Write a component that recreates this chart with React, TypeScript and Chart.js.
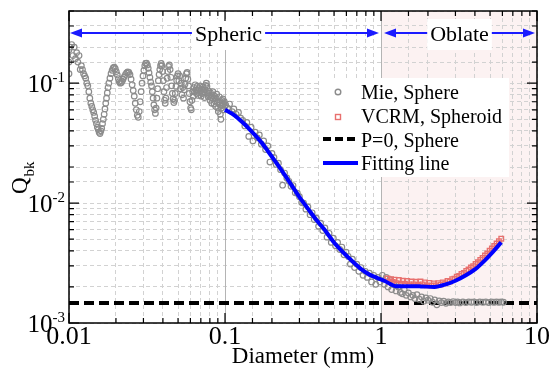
import React, { useEffect, useRef } from 'react';
import { Chart, registerables } from 'chart.js';

Chart.register(...registerables);

const FONT = 'Liberation Serif';

// Mie, Sphere (Diameter mm, Qbk)
const mieDiameter = [
  0.0100, 0.0100, 0.0100, 0.0102, 0.0104, 0.0106, 0.0108, 0.0110, 0.0112, 0.0114, 0.0116, 0.0118, 0.0120,
  0.0122, 0.0124, 0.0126, 0.0128, 0.0130, 0.0132, 0.0134, 0.0136, 0.0138, 0.0140, 0.0142, 0.0144, 0.0146,
  0.0148, 0.0150, 0.0152, 0.0154, 0.0156, 0.0158, 0.0160, 0.0162, 0.0164, 0.0166, 0.0168, 0.0170, 0.0172,
  0.0174, 0.0176, 0.0178, 0.0180, 0.0183, 0.0186, 0.0189, 0.0192, 0.0195, 0.0198, 0.0201, 0.0204, 0.0207,
  0.0210, 0.0213, 0.0216, 0.0219, 0.0222, 0.0226, 0.0230, 0.0234, 0.0238, 0.0242, 0.0246, 0.0250, 0.0254,
  0.0258, 0.0262, 0.0266, 0.0270, 0.0274, 0.0278, 0.0282, 0.0286, 0.0290, 0.0294, 0.0298, 0.0302, 0.0306,
  0.0310, 0.0314, 0.0318, 0.0322, 0.0326, 0.0330, 0.0334, 0.0338, 0.0342, 0.0346, 0.0350, 0.0354, 0.0358,
  0.0362, 0.0366, 0.0370, 0.0374, 0.0378, 0.0382, 0.0386, 0.0390, 0.0394, 0.0398, 0.0402, 0.0406, 0.0410,
  0.0414, 0.0418, 0.0422, 0.0426, 0.0430, 0.0435, 0.0440, 0.0445, 0.0450, 0.0455, 0.0460, 0.0465, 0.0470,
  0.0475, 0.0480, 0.0485, 0.0490, 0.0495, 0.0500, 0.0506, 0.0512, 0.0518, 0.0524, 0.0530, 0.0536, 0.0542,
  0.0548, 0.0554, 0.0560, 0.0566, 0.0572, 0.0578, 0.0584, 0.0590, 0.0596, 0.0602, 0.0608, 0.0614, 0.0620,
  0.0626, 0.0632, 0.0638, 0.0644, 0.0650, 0.0656, 0.0662, 0.0668, 0.0674, 0.0680, 0.0686, 0.0692, 0.0698,
  0.0704, 0.0710, 0.0717, 0.0724, 0.0731, 0.0738, 0.0745, 0.0752, 0.0759, 0.0766, 0.0773, 0.0780, 0.0787,
  0.0794, 0.0801, 0.0808, 0.0815, 0.0822, 0.0829, 0.0836, 0.0843, 0.0850, 0.0857, 0.0864, 0.0871, 0.0878,
  0.0885, 0.0892, 0.0899, 0.0906, 0.0913, 0.0920, 0.0927, 0.0934, 0.0941, 0.0948, 0.0955, 0.0962, 0.0969,
  0.0976, 0.0983, 0.0990, 0.0997,
  0.101, 0.104, 0.107, 0.111, 0.114, 0.118, 0.122, 0.126, 0.130, 0.134, 0.138, 0.142, 0.147, 0.151, 0.156,
  0.161, 0.166, 0.171, 0.177, 0.182, 0.188, 0.194, 0.200, 0.206, 0.213, 0.220, 0.227, 0.234, 0.241, 0.249,
  0.257, 0.265, 0.273, 0.282, 0.291, 0.300, 0.310, 0.319, 0.330, 0.340, 0.351, 0.362, 0.373, 0.385, 0.398,
  0.410, 0.423, 0.437, 0.451, 0.465, 0.480, 0.495, 0.511, 0.527, 0.544, 0.561, 0.579, 0.597, 0.616, 0.636,
  0.656, 0.677, 0.699, 0.721, 0.744, 0.767, 0.792, 0.817, 0.843, 0.870, 0.898, 0.926, 0.956, 0.986,
  1.02, 1.05, 1.08, 1.11, 1.14, 1.17, 1.21, 1.25, 1.29, 1.33, 1.37, 1.41, 1.45, 1.50, 1.55, 1.60, 1.65,
  1.70, 1.76, 1.82, 1.88, 1.94, 2.00, 2.07, 2.14, 2.21, 2.28, 2.36, 2.44, 2.52, 2.61, 2.70, 2.80, 2.90,
  3.00, 3.10, 3.20, 3.35, 3.50, 3.65, 3.80, 3.95, 4.10, 4.30, 4.50, 4.70, 4.90, 5.10, 5.30, 5.50, 5.70,
  5.90, 6.10,
];
const mieQbk = [
  0.190, 0.150, 0.120, 0.200, 0.210, 0.170, 0.200, 0.160, 0.180, 0.150, 0.170, 0.130, 0.140,
  0.130, 0.120, 0.115, 0.110, 0.100, 0.095, 0.085, 0.075, 0.068, 0.064, 0.060, 0.057, 0.053,
  0.049, 0.046, 0.043, 0.041, 0.039, 0.038, 0.040, 0.042, 0.046, 0.050, 0.055, 0.061, 0.068,
  0.075, 0.083, 0.092, 0.100, 0.110, 0.120, 0.128, 0.134, 0.136, 0.132, 0.125, 0.117, 0.109,
  0.103, 0.100, 0.101, 0.104, 0.108, 0.113, 0.118, 0.122, 0.124, 0.123, 0.118, 0.108, 0.097,
  0.087, 0.078, 0.068, 0.060, 0.054, 0.052, 0.058, 0.070, 0.085, 0.100, 0.115, 0.128, 0.140,
  0.146, 0.147, 0.142, 0.133, 0.122, 0.112, 0.102, 0.095, 0.085, 0.075, 0.066, 0.060, 0.056,
  0.062, 0.075, 0.090, 0.105, 0.118, 0.130, 0.140, 0.146, 0.140, 0.125, 0.105, 0.085, 0.072,
  0.068, 0.075, 0.092, 0.110, 0.125, 0.138, 0.142, 0.130, 0.112, 0.095, 0.082, 0.074, 0.069,
  0.072, 0.082, 0.094, 0.105, 0.115, 0.120, 0.105, 0.115, 0.090, 0.100, 0.080, 0.092, 0.075,
  0.088, 0.098, 0.110, 0.120, 0.123, 0.108, 0.095, 0.082, 0.070, 0.062, 0.060, 0.072, 0.085,
  0.078, 0.092, 0.085, 0.097, 0.088, 0.082, 0.094, 0.087, 0.079, 0.090, 0.083, 0.095, 0.086,
  0.078, 0.089, 0.082, 0.093, 0.085, 0.076, 0.088, 0.096, 0.100, 0.094, 0.083, 0.077, 0.086,
  0.079, 0.072, 0.083, 0.076, 0.068, 0.079, 0.085, 0.074, 0.067, 0.078, 0.071, 0.064, 0.075,
  0.081, 0.070, 0.062, 0.058, 0.070, 0.077, 0.066, 0.055, 0.050, 0.062, 0.072, 0.066, 0.074,
  0.068, 0.060, 0.070, 0.064,
  0.066, 0.062, 0.067, 0.058, 0.061, 0.055, 0.057, 0.051, 0.049, 0.044, 0.047, 0.036, 0.043, 0.033, 0.039,
  0.035, 0.037, 0.031, 0.033, 0.028, 0.030, 0.022, 0.026, 0.024, 0.021, 0.0215, 0.019, 0.0141, 0.0178, 0.0162,
  0.0152, 0.0138, 0.0140, 0.0122, 0.0121, 0.0113, 0.0101, 0.0100, 0.0089, 0.0093, 0.0080, 0.0083, 0.0073, 0.0075, 0.0064,
  0.0068, 0.0059, 0.0062, 0.0052, 0.0056, 0.0047, 0.0051, 0.0044, 0.0047, 0.0041, 0.0043, 0.0037, 0.0039, 0.0036, 0.0031,
  0.0034, 0.0029, 0.0031, 0.0027, 0.0029, 0.0025, 0.0027, 0.0024, 0.0026, 0.0022, 0.0025, 0.0021, 0.0024, 0.0022,
  0.00250, 0.00210, 0.00240, 0.00200, 0.00230, 0.00190, 0.00210, 0.00185, 0.00200, 0.00180, 0.00175, 0.00190, 0.00170, 0.00178, 0.00165, 0.00170, 0.00160,
  0.00172, 0.00158, 0.00165, 0.00152, 0.00162, 0.00155, 0.00160, 0.00149, 0.00156, 0.00142, 0.00153, 0.00148, 0.00152, 0.00146, 0.00150, 0.00148, 0.00151,
  0.00148, 0.00150, 0.00147, 0.00150, 0.00148, 0.00150, 0.00149, 0.00150, 0.00148, 0.00150, 0.00149, 0.00150, 0.00148, 0.00150, 0.00149, 0.00150, 0.00149,
  0.00150, 0.00149,
];

// VCRM, Spheroid
const vcrmDiameter = [
  1.10, 1.13, 1.16, 1.19, 1.22, 1.26, 1.30, 1.34, 1.38, 1.42, 1.47, 1.52, 1.57, 1.62, 1.67, 1.73, 1.79,
  1.85, 1.91, 1.97, 2.04, 2.11, 2.18, 2.25, 2.33, 2.41, 2.49, 2.58, 2.67, 2.76, 2.86, 2.96, 3.06, 3.17,
  3.28, 3.40, 3.52, 3.64, 3.77, 3.90, 4.04, 4.18, 4.33, 4.48, 4.64, 4.80, 4.97, 5.14, 5.32, 5.51, 5.70, 5.90,
];
const vcrmQbk = [
  0.00235, 0.00222, 0.00232, 0.00220, 0.00230, 0.00215, 0.00228, 0.00212, 0.00225, 0.00213, 0.00224, 0.00210,
  0.00222, 0.00210, 0.00221, 0.00209, 0.00222, 0.00210, 0.00218, 0.00206, 0.00216, 0.00205, 0.00214, 0.00206,
  0.00215, 0.00209, 0.00218, 0.00214, 0.00224, 0.00222, 0.00232, 0.00234, 0.00243, 0.00247, 0.00256, 0.00262,
  0.00272, 0.00279, 0.00290, 0.00298, 0.00310, 0.00321, 0.00336, 0.00348, 0.00365, 0.00380, 0.00400, 0.00418,
  0.00438, 0.00460, 0.00482, 0.00505,
];

// P=0, Sphere
const p0Diameter = [0.01, 10];
const p0Qbk = [0.00147, 0.00147];

// Fitting line
const fitDiameter = [
  0.1, 0.115, 0.13, 0.15, 0.17, 0.19, 0.21, 0.24, 0.27, 0.3, 0.34, 0.38, 0.43, 0.5, 0.57, 0.65, 0.75,
  0.85, 0.95, 1.05, 1.15, 1.25, 1.5, 1.8, 2.2, 2.6, 3.0, 3.5, 4.0, 4.6, 5.2, 5.9,
];
const fitQbk = [
  0.060, 0.054, 0.047, 0.0389, 0.0324, 0.0267, 0.0223, 0.0174, 0.0138, 0.0112, 0.0090, 0.0074, 0.0061, 0.0047,
  0.0039, 0.0033, 0.0028, 0.00252, 0.00237, 0.00225, 0.00211, 0.00203, 0.00203, 0.00202, 0.00200, 0.00210,
  0.00225, 0.00250, 0.00280, 0.00330, 0.00390, 0.00470,
];

const xTickLabels = ['0.01', '0.1', '1', '10'];
const yTickExponents = ['-3', '-2', '-1'];
const regionLabels = ['Spheric', 'Oblate'];
const regionBounds = [0.01, 1, 10];

const X_MIN = 0.01, X_MAX = 10, Y_MIN = 0.001, Y_MAX = 0.4;

const zip = (xs: number[], ys: number[]) => xs.map((x, i) => ({ x, y: ys[i] }));
const isPow10 = (v: number) => Math.abs(Math.log10(v) - Math.round(Math.log10(v))) < 1e-6;

const decorPlugin = {
  id: 'decor',
  beforeDraw(chart: any) {
    const { ctx, chartArea: a, scales } = chart;
    ctx.save();
    ctx.fillStyle = '#ffffff';
    ctx.fillRect(0, 0, chart.width, chart.height);
    const x1 = scales.x.getPixelForValue(regionBounds[1]);
    const x2 = scales.x.getPixelForValue(regionBounds[2]);
    ctx.fillStyle = '#fcf2f2';
    ctx.fillRect(x1, a.top, x2 - x1, a.bottom - a.top);
    ctx.restore();
  },
  beforeDatasetsDraw(chart: any) {
    const { ctx, chartArea: a, scales } = chart;
    const xs = scales.x;
    ctx.save();
    ctx.strokeStyle = '#b4b4b4';
    ctx.lineWidth = 1;
    [0.1, 1].forEach((v) => {
      const p = Math.round(xs.getPixelForValue(v)) + 0.5;
      ctx.beginPath();
      ctx.moveTo(p, a.top);
      ctx.lineTo(p, a.bottom);
      ctx.stroke();
    });
    const y = 33;
    ctx.font = `22px ${FONT}`;
    const drawRegion = (label: string, lo: number, hi: number, bg: string) => {
      const pl = xs.getPixelForValue(lo) + (lo === regionBounds[0] ? 1 : 3);
      const pr = xs.getPixelForValue(hi) - 2;
      const cx = (pl + pr) / 2 + (label === 'Spheric' ? 4 : 0);
      const tw = ctx.measureText(label).width;
      ctx.fillStyle = bg;
      ctx.fillRect(cx - tw / 2 - 3, 19, tw + 6, 31);
      ctx.strokeStyle = '#1a1aff';
      ctx.fillStyle = '#1a1aff';
      ctx.lineWidth = 2;
      ctx.beginPath();
      ctx.moveTo(pl + 8, y);
      ctx.lineTo(cx - tw / 2 - 3, y);
      ctx.moveTo(cx + tw / 2 + 3, y);
      ctx.lineTo(pr - 8, y);
      ctx.stroke();
      ctx.beginPath();
      ctx.moveTo(pl, y);
      ctx.lineTo(pl + 12, y - 4.5);
      ctx.lineTo(pl + 12, y + 4.5);
      ctx.closePath();
      ctx.fill();
      ctx.beginPath();
      ctx.moveTo(pr, y);
      ctx.lineTo(pr - 12, y - 4.5);
      ctx.lineTo(pr - 12, y + 4.5);
      ctx.closePath();
      ctx.fill();
      ctx.fillStyle = '#000';
      ctx.textAlign = 'center';
      ctx.textBaseline = 'alphabetic';
      ctx.fillText(label, cx, y + 8);
    };
    drawRegion(regionLabels[0], regionBounds[0], regionBounds[1], '#ffffff');
    drawRegion(regionLabels[1], regionBounds[1], regionBounds[2], '#ffffff');
    ctx.restore();
  },
  afterDraw(chart: any) {
    const { ctx, chartArea: a, scales } = chart;
    const xs = scales.x, ys = scales.y;
    ctx.save();
    ctx.strokeStyle = '#000';
    ctx.lineWidth = 1.5;
    ctx.strokeRect(a.left, a.top, a.right - a.left, a.bottom - a.top);
    ctx.lineWidth = 1.2;
    ctx.beginPath();
    xs.ticks.forEach((t: any) => {
      const p = xs.getPixelForValue(t.value);
      const len = isPow10(t.value) ? 10 : 5;
      ctx.moveTo(p, a.bottom);
      ctx.lineTo(p, a.bottom - len);
      ctx.moveTo(p, a.top);
      ctx.lineTo(p, a.top + len);
    });
    ys.ticks.forEach((t: any) => {
      const p = ys.getPixelForValue(t.value);
      const len = isPow10(t.value) ? 10 : 5;
      ctx.moveTo(a.left, p);
      ctx.lineTo(a.left + len, p);
      ctx.moveTo(a.right, p);
      ctx.lineTo(a.right - len, p);
    });
    ctx.stroke();
    ctx.fillStyle = '#000';
    ctx.textBaseline = 'alphabetic';
    ys.ticks.forEach((t: any) => {
      if (!isPow10(t.value)) return;
      const e = Math.round(Math.log10(t.value));
      const sup = yTickExponents[e + 3];
      if (sup === undefined) return;
      const p = ys.getPixelForValue(t.value);
      ctx.font = `15px ${FONT}`;
      ctx.textAlign = 'right';
      const sw = ctx.measureText(sup).width;
      ctx.fillText(sup, a.left - 4, p - 1);
      ctx.font = `25px ${FONT}`;
      ctx.fillText('10', a.left - 4 - sw, p + 9);
    });
    ctx.save();
    ctx.translate(27, 194);
    ctx.rotate(-Math.PI / 2);
    ctx.textAlign = 'left';
    ctx.font = `23px ${FONT}`;
    ctx.fillText('Q', 0, 0);
    const qw = ctx.measureText('Q').width;
    ctx.font = `15px ${FONT}`;
    ctx.fillText('bk', qw + 1, 7);
    ctx.restore();
    const ds = chart.data.datasets;
    ctx.fillStyle = '#ffffff';
    ctx.fillRect(321, 78, 188, 99);
    ctx.font = `20px ${FONT}`;
    ctx.textAlign = 'left';
    const rows = [99, 123, 147, 170];
    const tx = 361;
    ctx.strokeStyle = ds[0].borderColor;
    ctx.lineWidth = 1.4;
    ctx.beginPath();
    ctx.arc(338, 92, 2.8, 0, Math.PI * 2);
    ctx.stroke();
    ctx.strokeStyle = ds[1].borderColor;
    ctx.strokeRect(335.5, 114.5, 5, 5);
    ctx.strokeStyle = ds[2].borderColor;
    ctx.lineWidth = 4;
    ctx.setLineDash([8, 4]);
    ctx.beginPath();
    ctx.moveTo(323, 139);
    ctx.lineTo(358, 139);
    ctx.stroke();
    ctx.setLineDash([]);
    ctx.strokeStyle = ds[3].borderColor;
    ctx.beginPath();
    ctx.moveTo(323, 163);
    ctx.lineTo(358, 163);
    ctx.stroke();
    ctx.fillStyle = '#000';
    ds.forEach((d: any, i: number) => ctx.fillText(d.label, tx, rows[i]));
    ctx.restore();
  },
};

export default function App() {
  const ref = useRef<HTMLCanvasElement>(null);
  useEffect(() => {
    if (!ref.current) return;
    const chart = new Chart(ref.current, {
      type: 'scatter',
      data: {
        datasets: [
          {
            label: 'Mie, Sphere',
            data: zip(mieDiameter, mieQbk),
            showLine: false,
            pointStyle: 'circle',
            pointRadius: 2.8,
            pointBorderWidth: 1.2,
            borderColor: '#8c8c8c',
            pointBorderColor: '#8c8c8c',
            pointBackgroundColor: 'rgba(0,0,0,0)',
            backgroundColor: 'rgba(0,0,0,0)',
            order: 2,
          },
          {
            label: 'VCRM, Spheroid',
            data: zip(vcrmDiameter, vcrmQbk),
            showLine: false,
            pointStyle: 'rect',
            pointRadius: 3.2,
            pointBorderWidth: 1.4,
            borderColor: '#e8706e',
            pointBorderColor: '#e8706e',
            pointBackgroundColor: 'rgba(0,0,0,0)',
            backgroundColor: 'rgba(0,0,0,0)',
            order: 1,
          },
          {
            label: 'P=0, Sphere',
            data: zip(p0Diameter, p0Qbk),
            showLine: true,
            pointRadius: 0,
            borderColor: '#000000',
            borderWidth: 4,
            borderDash: [10, 5],
            order: 3,
          },
          {
            label: 'Fitting line',
            data: zip(fitDiameter, fitQbk),
            showLine: true,
            pointRadius: 0,
            borderColor: '#0000ff',
            borderWidth: 4,
            cubicInterpolationMode: 'monotone',
            order: 0,
          },
        ],
      },
      options: {
        animation: false,
        responsive: false,
        devicePixelRatio: 1,
        events: [],
        layout: { padding: { top: 11, right: 11, left: 0, bottom: 0 }, autoPadding: false },
        plugins: { legend: { display: false }, tooltip: { enabled: false } },
        scales: {
          x: {
            type: 'logarithmic',
            min: X_MIN,
            max: X_MAX,
            position: 'bottom',
            afterFit: (s: any) => { s.height = 50; },
            grid: { color: '#d2d2d2', lineWidth: 1, drawTicks: false },
            border: { display: false, dash: [4, 3] },
            ticks: {
              autoSkip: false,
              maxRotation: 0,
              padding: 1,
              color: '#000',
              font: { family: FONT, size: 26, lineHeight: 1 },
              callback: (v: any) => {
                const n = Number(v);
                return isPow10(n) ? xTickLabels[Math.round(Math.log10(n)) + 2] ?? '' : '';
              },
            },
            title: {
              display: true,
              text: 'Diameter (mm)',
              color: '#000',
              font: { family: FONT, size: 23 },
              padding: { top: 0, bottom: 2 },
            },
          },
          y: {
            type: 'logarithmic',
            min: Y_MIN,
            max: Y_MAX,
            afterFit: (s: any) => { s.width = 69; },
            grid: { color: '#d2d2d2', lineWidth: 1, drawTicks: false },
            border: { display: false, dash: [4, 3] },
            ticks: { autoSkip: false, callback: () => '' },
          },
        },
      } as any,
      plugins: [decorPlugin],
    });
    return () => chart.destroy();
  }, []);
  return (
    <div style={{ position: 'fixed', left: 0, top: 0, width: 551, height: 373, background: '#fff' }}>
      <canvas ref={ref} width={551} height={373} style={{ display: 'block', width: 551, height: 373 }} />
    </div>
  );
}
